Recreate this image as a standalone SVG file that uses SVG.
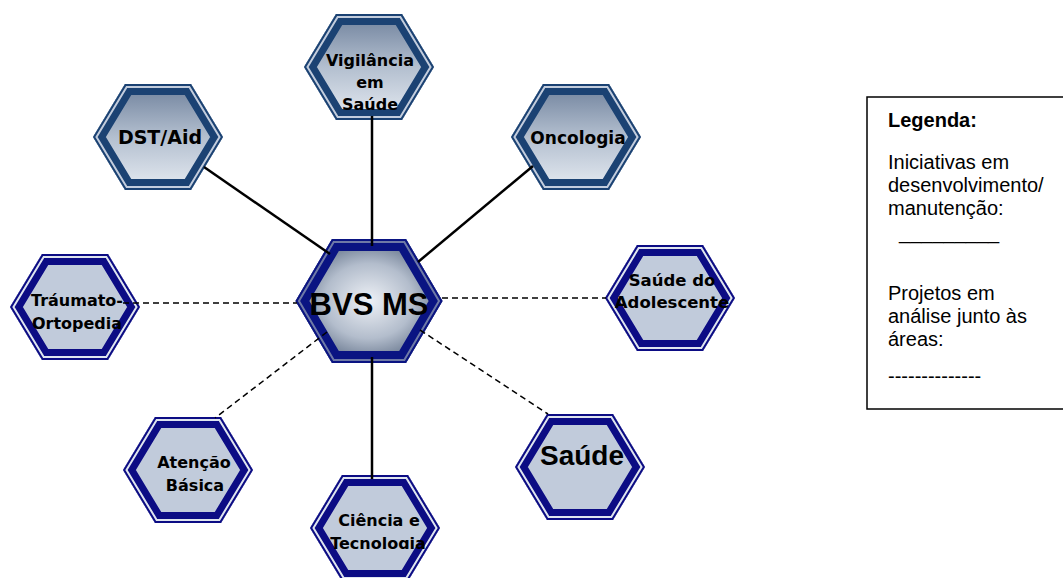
<svg xmlns="http://www.w3.org/2000/svg" xmlns:xlink="http://www.w3.org/1999/xlink" width="1063" height="578" viewBox="0 0 1063 578">
<style>
  .lbl{font-family:"DejaVu Sans",Verdana,sans-serif;font-weight:bold;fill:#000;text-anchor:middle}
  .big{font-family:"Liberation Sans",Arial,sans-serif;font-weight:bold;fill:#000;text-anchor:middle}
  .leg{font-family:"Liberation Sans",Arial,sans-serif;font-size:20px;fill:#000}
  .solid{stroke:#000;stroke-width:2.5;fill:none}
  .dash{stroke:#000;stroke-width:1.5;fill:none;stroke-dasharray:6 4}
  .upBand{stroke:#1b4273;fill:url(#gUp)}
  .upGap{stroke:#c3cddd;fill:none}
  .upLine{stroke:#1b4273;fill:none}
  .loBand{stroke:#0c0c84;fill:#c1cbdb}
  .loGap{stroke:#dfe5ef;fill:none}
  .loLine{stroke:#0c0c84;fill:none}
</style>
<defs>
  <polygon id="hex" points="-65,0 -33,-53 33,-53 65,0 33,53 -33,53"/>
  <polygon id="hexC" points="-73.5,0 -37,-62 37,-62 73.5,0 37,62 -37,62"/>
  <clipPath id="hc"><use xlink:href="#hex"/></clipPath>
  <clipPath id="hcC"><use xlink:href="#hexC"/></clipPath>
  <linearGradient id="gUp" x1="0" y1="0" x2="0" y2="1">
    <stop offset="0" stop-color="#6f819c"/>
    <stop offset="0.5" stop-color="#b3bfcf"/>
    <stop offset="1" stop-color="#e6ebf2"/>
  </linearGradient>
  <radialGradient id="gC" cx="0.5" cy="0.5" r="0.55">
    <stop offset="0" stop-color="#eef1f6"/>
    <stop offset="0.55" stop-color="#b3bdcc"/>
    <stop offset="1" stop-color="#56667f"/>
  </radialGradient>
  <clipPath id="clipTec"><rect x="-70" y="-60" width="140" height="81"/></clipPath>
</defs>
<rect width="1063" height="578" fill="#fff"/>

<g id="n-vigilancia" transform="translate(369,67)">
  <g clip-path="url(#hc)">
    <use xlink:href="#hex" class="upBand" stroke-width="22"/>
    <use xlink:href="#hex" class="upGap" stroke-width="8"/>
    <use xlink:href="#hex" class="upLine" stroke-width="4"/>
  </g>
  <text class="lbl" font-size="16" x="1" y="-1">Vigilância</text>
  <text class="lbl" font-size="16" x="1" y="21">em</text>
  <text class="lbl" font-size="16" x="1" y="43">Saúde</text>
</g>

<g id="n-dst" transform="translate(158,137)">
  <g clip-path="url(#hc)">
    <use xlink:href="#hex" class="upBand" stroke-width="22"/>
    <use xlink:href="#hex" class="upGap" stroke-width="8"/>
    <use xlink:href="#hex" class="upLine" stroke-width="4"/>
  </g>
  <text class="lbl" font-size="19" x="2" y="7">DST/Aid</text>
</g>

<g id="n-oncologia" transform="translate(576,137)">
  <g clip-path="url(#hc)">
    <use xlink:href="#hex" class="upBand" stroke-width="22"/>
    <use xlink:href="#hex" class="upGap" stroke-width="8"/>
    <use xlink:href="#hex" class="upLine" stroke-width="4"/>
  </g>
  <text class="lbl" font-size="17" x="2" y="7">Oncologia</text>
</g>

<g id="n-traumato" transform="translate(75,307)">
  <g clip-path="url(#hc)">
    <use xlink:href="#hex" class="loBand" stroke-width="22"/>
    <use xlink:href="#hex" class="loGap" stroke-width="8"/>
    <use xlink:href="#hex" class="loLine" stroke-width="4"/>
  </g>
  <text class="lbl" font-size="16" x="2" y="-1">Tráumato-</text>
  <text class="lbl" font-size="16" x="2" y="22">Ortopedia</text>
</g>

<g id="n-adolescente" transform="translate(670,298)">
  <g clip-path="url(#hc)">
    <use xlink:href="#hex" class="loBand" stroke-width="22"/>
    <use xlink:href="#hex" class="loGap" stroke-width="8"/>
    <use xlink:href="#hex" class="loLine" stroke-width="4"/>
  </g>
  <text class="lbl" font-size="16.5" x="2" y="-12">Saúde do</text>
  <text class="lbl" font-size="16.5" x="2" y="10">Adolescente</text>
</g>

<g id="n-atencao" transform="translate(188,470)">
  <g clip-path="url(#hc)">
    <use xlink:href="#hex" class="loBand" stroke-width="22"/>
    <use xlink:href="#hex" class="loGap" stroke-width="8"/>
    <use xlink:href="#hex" class="loLine" stroke-width="4"/>
  </g>
  <text class="lbl" font-size="16" x="6" y="-2">Atenção</text>
  <text class="lbl" font-size="16" x="7" y="21">Básica</text>
</g>

<g id="n-ciencia" transform="translate(375,528)">
  <g clip-path="url(#hc)">
    <use xlink:href="#hex" class="loBand" stroke-width="22"/>
    <use xlink:href="#hex" class="loGap" stroke-width="8"/>
    <use xlink:href="#hex" class="loLine" stroke-width="4"/>
  </g>
  <g clip-path="url(#clipTec)">
    <text class="lbl" font-size="16" x="4" y="-2">Ciência e</text>
    <text class="lbl" font-size="16" x="3" y="21">Tecnologia</text>
  </g>
</g>

<g id="n-saude" transform="translate(580,467)">
  <g clip-path="url(#hc)">
    <use xlink:href="#hex" class="loBand" stroke-width="22"/>
    <use xlink:href="#hex" class="loGap" stroke-width="8"/>
    <use xlink:href="#hex" class="loLine" stroke-width="4"/>
  </g>
  <text class="big" font-size="28" x="2" y="-2">Saúde</text>
</g>

<g id="n-bvs" transform="translate(369,301)">
  <g clip-path="url(#hcC)">
    <use xlink:href="#hexC" fill="url(#gC)" stroke="#0a1482" stroke-width="24"/>
    <use xlink:href="#hexC" fill="none" stroke="#6f7aa6" stroke-width="8"/>
    <use xlink:href="#hexC" fill="none" stroke="#0a1482" stroke-width="4"/>
  </g>
  <text class="big" font-size="31" x="0" y="14">BVS MS</text>
</g>

<g id="connectors">
  <line class="solid" x1="372" y1="116" x2="372" y2="246"/>
  <line class="solid" x1="372" y1="357" x2="372" y2="479"/>
  <line class="solid" x1="204" y1="167" x2="330" y2="254"/>
  <line class="solid" x1="533" y1="166" x2="418" y2="262"/>
  <line class="dash" x1="123" y1="303" x2="297" y2="303"/>
  <line class="dash" x1="442" y1="298" x2="606" y2="298"/>
  <line class="dash" x1="327" y1="332" x2="215" y2="418"/>
  <line class="dash" x1="420" y1="330" x2="548" y2="414"/>
</g>

<g id="legend">
  <rect x="867" y="97" width="220" height="312" fill="#fff" stroke="#000" stroke-width="1.5"/>
  <text class="leg" x="888" y="127" font-weight="bold">Legenda:</text>
  <text class="leg" x="888" y="169">Iniciativas em</text>
  <text class="leg" x="888" y="192">desenvolvimento/</text>
  <text class="leg" x="888" y="215">manutenção:</text>
  <text class="leg" x="888" y="239" xml:space="preserve">  _________</text>
  <text class="leg" x="888" y="300">Projetos em</text>
  <text class="leg" x="888" y="323">análise junto às</text>
  <text class="leg" x="888" y="346">áreas:</text>
  <text class="leg" x="888" y="383">--------------</text>
</g>
</svg>
